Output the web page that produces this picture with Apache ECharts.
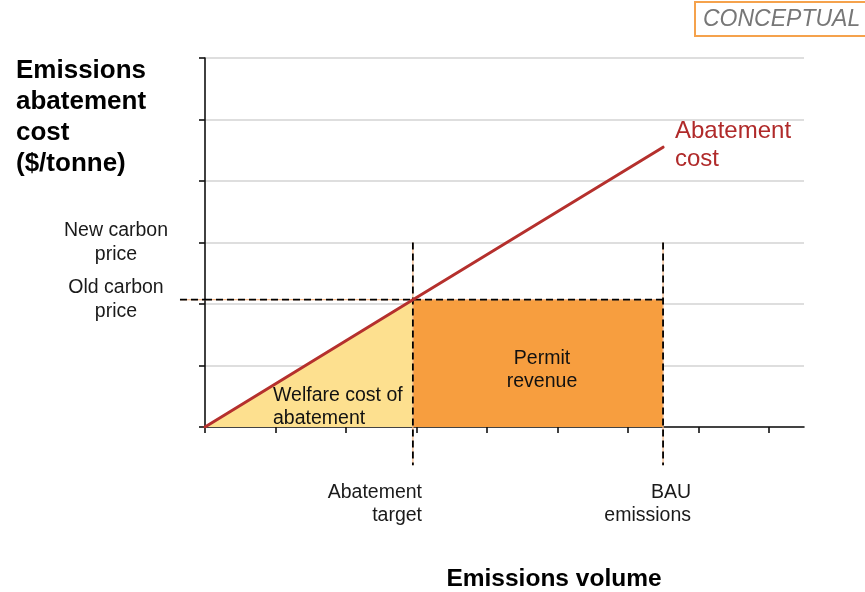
<!DOCTYPE html>
<html>
<head>
<meta charset="utf-8">
<script src="https://cdn.jsdelivr.net/npm/echarts@6/dist/echarts.min.js"></script>
<style>
  html, body { margin: 0; padding: 0; background: #fff; }
  #chart { width: 865px; height: 592px; }
</style>
</head>
<body>
<div id="chart"></div>
<script>
// Conceptual model: emissions volume (x) vs. abatement cost (y), arbitrary units
const abatementTarget = 2.95;   // emissions volume at the abatement target
const bauEmissions = 6.5;       // business-as-usual emissions volume
const oldCarbonPrice = 2.07;    // carbon price at the abatement target
const newCarbonPrice = 3;       // higher carbon price level
const abatementCostLine = [[0, 0], [2.95, 2.07], [6.5, 4.55]];
const welfareTriangle = [[0, 0], [2.95, 2.07]];
const permitRevenue = [[2.95, 2.07], [6.5, 2.07]];
const xTicks = [0, 1, 2, 3, 4, 5, 6, 7, 8];
const yLabelValues = [oldCarbonPrice, newCarbonPrice];
const yLabelText = { old: 'Old carbon\nprice', new: 'New carbon\nprice' };
const priceLineStart = -0.355;  // price guide reaches past the y axis
const guideBottom = -0.62;      // vertical guides reach below the x axis

const FONT = '"Liberation Sans", Arial, sans-serif';
const chart = echarts.init(document.getElementById('chart'), null, { renderer: 'canvas' });

const UNDER = { color: '#f6b98a', width: 1.2, type: 'solid' };
const DASH = { color: '#000', width: 1.8, type: [7, 4] };

const dashed = (data) => [
  // faint orange under-stroke visible between the dashes
  { type: 'line', data, clip: false, symbol: 'none', silent: true, z: 3, lineStyle: UNDER },
  { type: 'line', data, clip: false, symbol: 'none', silent: true, z: 4, lineStyle: DASH }
];

// free-standing text annotations, drawn above the series
const note = (id, text, x, y, font, fill, align, lineHeight) => ({
  id, type: 'text', x, y, z: 100,
  style: { text, font, fill, align, verticalAlign: 'top', lineHeight }
});

chart.setOption({
  animation: false,
  backgroundColor: '#fff',
  grid: { left: 205, right: 61, top: 58, bottom: 165 },
  xAxis: {
    type: 'value', min: 0, max: 8.5, interval: 1,
    axisLine: { show: true, onZero: false, lineStyle: { color: '#111', width: 1.6 } },
    axisTick: { show: true, customValues: xTicks, length: 6, lineStyle: { color: '#111', width: 1.6 } },
    axisLabel: { show: false },
    splitLine: { show: false }
  },
  yAxis: {
    type: 'value', min: 0, max: 6, interval: 1,
    axisLine: { show: true, lineStyle: { color: '#111', width: 1.6 } },
    axisTick: { show: true, length: 6, lineStyle: { color: '#111', width: 1.6 } },
    axisLabel: {
      show: true, customValues: yLabelValues, margin: 89, align: 'center',
      fontFamily: FONT, fontSize: 19.5, lineHeight: 23.5, color: '#1a1a1a',
      formatter: (v) => (v === newCarbonPrice ? yLabelText.new : yLabelText.old)
    },
    splitLine: { show: true, lineStyle: { color: '#d3d3d3', width: 1.6 } }
  },
  series: [
    {
      name: 'Welfare cost of abatement', type: 'line', data: welfareTriangle,
      symbol: 'none', z: 1, lineStyle: { width: 0 },
      areaStyle: { color: '#fde08f', opacity: 1 }
    },
    {
      name: 'Permit revenue', type: 'line', data: permitRevenue,
      symbol: 'none', z: 1, lineStyle: { width: 0 },
      areaStyle: { color: '#f79e3f', opacity: 1 }
    },
    ...dashed([[0, oldCarbonPrice], [bauEmissions, oldCarbonPrice]]),
    ...dashed([[abatementTarget, newCarbonPrice], [abatementTarget, guideBottom]]),
    ...dashed([[bauEmissions, newCarbonPrice], [bauEmissions, guideBottom]]),
    {
      name: 'Abatement cost', type: 'line', data: abatementCostLine,
      symbol: 'none', z: 6,
      lineStyle: { color: '#b5302d', width: 3, cap: 'round' }
    }
  ]
});

// stub of the old-price guide to the left of the y axis, placed through the axis scales
const p0 = chart.convertToPixel({ gridIndex: 0 }, [priceLineStart, oldCarbonPrice]);
const p1 = chart.convertToPixel({ gridIndex: 0 }, [0, oldCarbonPrice]);
const stub = (id, style, z) => ({
  id, type: 'line', z,
  shape: { x1: p0[0], y1: p0[1], x2: p1[0], y2: p1[1] },
  style: { stroke: style.color, lineWidth: style.width, lineDash: style.type === 'solid' ? null : style.type }
});

chart.setOption({
  graphic: [
    stub('stubUnder', UNDER, 3),
    stub('stubDash', DASH, 4),
    {
      id: 'badge', type: 'rect', x: 695, y: 2, z: 100,
      shape: { width: 190, height: 34 },
      style: { fill: '#fff', stroke: '#f5a24c', lineWidth: 2 }
    },
    note('badgeText', 'CONCEPTUAL', 703, 8, 'italic 23px ' + FONT, '#777', 'left'),
    note('yTitle', 'Emissions\nabatement\ncost\n($/tonne)', 16, 55, 'bold 26px ' + FONT, '#000', 'left', 31),
    note('costLabel', 'Abatement\ncost', 675, 117, '24px ' + FONT, '#b02a2a', 'left', 28),
    note('welfareLabel', 'Welfare cost of\nabatement', 273, 384, '19.5px ' + FONT, '#111', 'left', 23),
    note('revenueLabel', 'Permit\nrevenue', 542, 347, '19.5px ' + FONT, '#111', 'center', 23),
    note('targetLabel', 'Abatement\ntarget', 422, 481, '19.5px ' + FONT, '#1a1a1a', 'right', 23),
    note('bauLabel', 'BAU\nemissions', 691, 481, '19.5px ' + FONT, '#1a1a1a', 'right', 23),
    note('xTitle', 'Emissions volume', 554, 567, 'bold 24.5px ' + FONT, '#000', 'center')
  ]
});
</script>
</body>
</html>
